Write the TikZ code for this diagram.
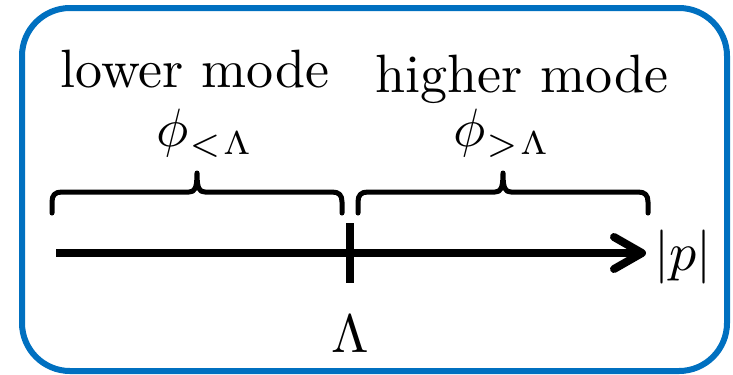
\RequirePackage{fix-cm}
\documentclass[tikz,border=0pt]{standalone}
\usetikzlibrary{arrows.meta}
\definecolor{frameblue}{RGB}{0,112,192}
\tikzset{
  lbl/.style={inner sep=0pt, font=\fontsize{10.8}{13}\selectfont, anchor=base},
  bracepath/.style={line width=1.0pt, line cap=round, line join=round},
  axisline/.style={line width=1.6pt, -{Straight Barb[length=5.6pt,width=6.4pt,round]}},
  tickline/.style={line width=1.6pt},
  frame/.style={draw=frameblue, line width=1.2pt, rounded corners=9.6pt}
}
\newcommand{\smallsub}[1]{\mbox{\fontsize{6.6}{7}\selectfont$#1$}}
\begin{document}
\begin{tikzpicture}[x=0.2pt, y=-0.2pt]
\useasboundingbox (0,0) rectangle (733,374);
\draw[frame] (22,8) rectangle (727,371);

% labels
\node[lbl] (lower) at (195,87) {lower mode};
\node[lbl] (higher) at (522,92) {higher mode};
\node[lbl] (philow) at (205,146) {$\phi_{\smallsub{{<}\mkern1mu\Lambda}}$};
\node[lbl] (phihigh) at (502,146) {$\phi_{\smallsub{{>}\mkern1mu\Lambda}}$};

% braces
\draw[bracepath] (52,213) -- (52,202) .. controls (52,195) and (55,192) .. (62,192)
  -- (189,192) .. controls (195,192) and (197,188) .. (197,173)
  .. controls (197,188) and (199,192) .. (205,192)
  -- (332,192) .. controls (339,192) and (342,195) .. (342,202) -- (342,213);
\draw[bracepath] (358,213) -- (358,202) .. controls (358,195) and (361,192) .. (368,192)
  -- (495,192) .. controls (501,192) and (503,188) .. (503,173)
  .. controls (503,188) and (505,192) .. (511,192)
  -- (638,192) .. controls (645,192) and (648,195) .. (648,202) -- (648,213);

% axis
\coordinate (axstart) at (56,253);
\coordinate (axend) at (646,253);
\draw[axisline] (axstart) -- (axend);
\coordinate (ticktop) at (350,223);
\coordinate (tickbot) at (350,283);
\draw[tickline] (ticktop) -- (tickbot);

\node[lbl, anchor=center] (lam) at (350,334) {$\Lambda$};
\node[lbl, anchor=center] (pabs) at (683,257) {$|p|$};
\end{tikzpicture}
\end{document}
